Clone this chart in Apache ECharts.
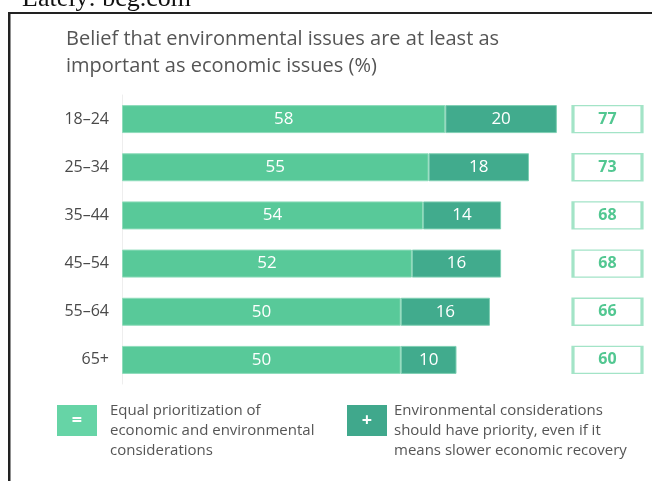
<!DOCTYPE html>
<html>
<head>
<meta charset="utf-8">
<script src="https://cdn.jsdelivr.net/npm/echarts@6/dist/echarts.min.js"></script>
<style>html,body{margin:0;padding:0;background:#fff;}#c{width:652px;height:481px;}</style>
</head>
<body>
<div id="c"></div>
<script>
var categories = ['18–24', '25–34', '35–44', '45–54', '55–64', '65+'];
var equalValues = [58, 55, 54, 52, 50, 50];
var envValues = [20, 18, 14, 16, 16, 10];
var totalValues = [77, 73, 68, 68, 66, 60];
var titleText = 'Belief that environmental issues are at least as\nimportant as economic issues (%)';
var legendEqual = 'Equal prioritization of\neconomic and environmental\nconsiderations';
var legendEnv = 'Environmental considerations\nshould have priority, even if it\nmeans slower economic recovery';
var sourceText = 'Lately: bcg.com';

var FONT = '"Open Sans", Lato, sans-serif';
var chart = echarts.init(document.getElementById('c'), null, {renderer: 'canvas'});
chart.setOption({
  animation: false,
  backgroundColor: '#fff',
  title: {
    text: titleText,
    left: 61, top: 21,
    textStyle: {fontFamily: FONT, fontSize: 20, fontWeight: 'normal', color: '#555', lineHeight: 27}
  },
  grid: [
    {left: 122, width: 446, top: 95, height: 289},
    {left: 572, width: 71, top: 95, height: 289}
  ],
  xAxis: [
    {gridIndex: 0, type: 'value', min: 0, max: 80, show: false},
    {gridIndex: 1, type: 'category', data: ['Total'], show: false}
  ],
  yAxis: [
    {gridIndex: 0, type: 'category', data: categories, inverse: true,
     axisLine: {show: true, lineStyle: {color: '#eeeeee', width: 1}},
     axisTick: {show: false},
     axisLabel: {fontFamily: FONT, fontSize: 16, color: '#4a4a4a', margin: 13}},
    {gridIndex: 1, type: 'category', data: categories, inverse: true, show: false}
  ],
  series: [
    {type: 'bar', stack: 'a', xAxisIndex: 0, yAxisIndex: 0, data: equalValues, barWidth: 28,
     itemStyle: {color: '#58c999', borderColor: '#8edcbb', borderWidth: 1},
     label: {show: true, position: 'inside', color: '#fff', fontFamily: FONT, fontSize: 17}},
    {type: 'bar', stack: 'a', xAxisIndex: 0, yAxisIndex: 0, data: envValues, barWidth: 28,
     itemStyle: {color: '#41ab8d', borderColor: '#7fcfb3', borderWidth: 1},
     label: {show: true, position: 'inside', color: '#fff', fontFamily: FONT, fontSize: 17}},
    {type: 'scatter', xAxisIndex: 1, yAxisIndex: 1,
     data: totalValues.map(function (v, i) { return ['Total', categories[i], v]; }),
     encode: {x: 0, y: 1},
     symbol: 'rect', symbolSize: [69, 27],
     itemStyle: {color: '#fff', borderColor: '#a3e4c7', borderWidth: 2, opacity: 1},
     label: {show: true, position: 'inside', color: '#52c791', fontFamily: FONT, fontSize: 16, fontWeight: 'bold',
             formatter: function (p) { return p.value[2]; }}}
  ],
  graphic: [
    {type: 'text', left: 22, top: -14, style: {text: sourceText, font: '26px "Liberation Serif", serif', fill: '#111'}},
    {type: 'rect', shape: {x: 9, y: 12, width: 643, height: 2}, style: {fill: '#222'}},
    {type: 'rect', shape: {x: 8, y: 12, width: 2.5, height: 469}, style: {fill: '#222'}},
    {type: 'rect', shape: {x: 57, y: 405, width: 40, height: 31}, style: {fill: '#66d4a6'}},
    {type: 'text', x: 77, y: 420.5, style: {text: '=', font: 'bold 18px ' + FONT, fill: '#fff', align: 'center', verticalAlign: 'middle'}},
    {type: 'text', x: 110, y: 401, style: {text: legendEqual, font: '15px ' + FONT, fill: '#555', lineHeight: 20}},
    {type: 'rect', shape: {x: 347, y: 405, width: 40, height: 31}, style: {fill: '#40a88c'}},
    {type: 'text', x: 367, y: 420.5, style: {text: '+', font: 'bold 18px ' + FONT, fill: '#fff', align: 'center', verticalAlign: 'middle'}},
    {type: 'text', x: 394, y: 401, style: {text: legendEnv, font: '15px ' + FONT, fill: '#555', lineHeight: 20}}
  ]
});
</script>
</body>
</html>
